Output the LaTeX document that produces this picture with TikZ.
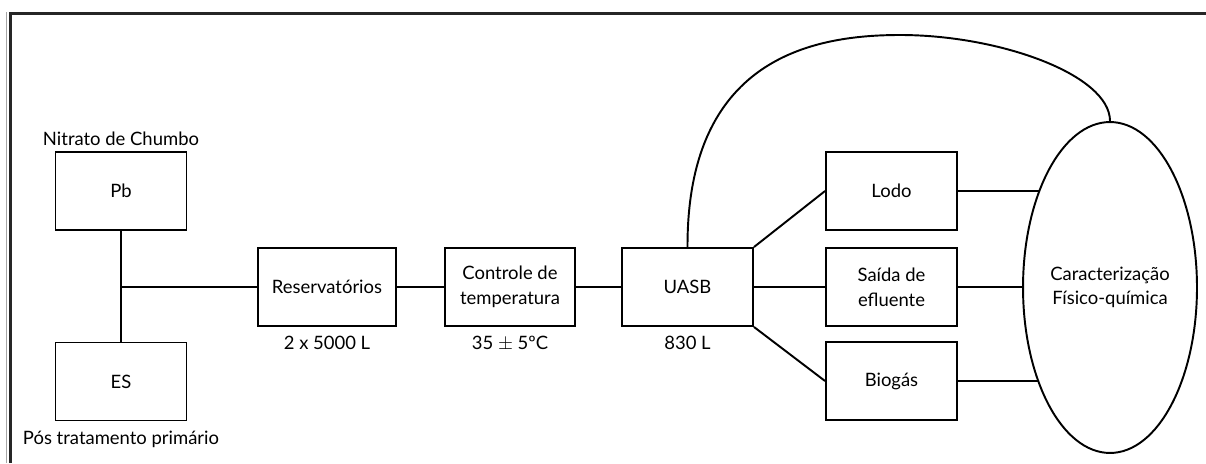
\documentclass[tikz,border=0pt]{standalone}
\usepackage{fontspec}
\setmainfont{Lato}
\usetikzlibrary{positioning,shapes.geometric,backgrounds}

\begin{document}
\begin{tikzpicture}[x=0.02cm,y=-0.02cm,
	font=\fontsize{10.5}{14}\selectfont,
	box/.style={draw,line width=1.1pt,minimum width=2.62cm,minimum height=1.56cm,align=center,inner sep=2pt},
	lnk/.style={line width=1.1pt},
	tag/.style={inner sep=1pt}]
	\useasboundingbox (0,0) rectangle (1206,463);
	% frame
	\draw[line width=0.8pt,black!35] (6.5,463) -- (6.5,12);
	\draw[line width=1.3pt,black!85] (10.5,463) -- (10.5,13.5) -- (1206,13.5);
	% sources
	\node[box] (pb) at (121,191) {Pb};
	\node[box] (es) at (121,381.5) {ES};
	\node[tag,above=2pt of pb] (pblbl) {Nitrato de Chumbo};
	\node[tag,below=4pt of es] (eslbl) {Pós tratamento primário};
	% main line
	\node[box,minimum width=2.76cm] (res) at (327,287) {Reservatórios};
	\node[box,minimum width=2.6cm] (temp) at (510,287) {Controle de\\temperatura};
	\node[box] (uasb) at (687.5,287) {UASB};
	\node[tag,below=4pt of res] (reslbl) {2 x 5000 L};
	\node[tag,below=4pt of temp] (templbl) {35 $\pm$ 5ºC};
	\node[tag,below=4pt of uasb] (uasblbl) {830 L};
	% outputs
	\node[box] (lodo) at (891.5,191) {Lodo};
	\node[box] (saida) at (891.5,287) {Saída de\\efluente};
	\node[box] (biogas) at (891.5,381) {Biogás};
	\node[draw,fill=white,line width=1.1pt,ellipse,minimum width=3.48cm,minimum height=6.62cm,inner sep=0pt,align=center] (carac) at (1110,287.5) {Caracterização\\Físico-química};
	\coordinate (jn) at (pb.south |- res.west);
	\draw[lnk] (pb.south) -- (es.north);
	\draw[lnk] (jn) -- (res.west);
	\draw[lnk] (res.east) -- (temp.west);
	\draw[lnk] (temp.east) -- (uasb.west);
	\draw[lnk] (uasb.north east) -- (lodo.west);
	\draw[lnk] (uasb.east) -- (saida.west);
	\draw[lnk] (uasb.south east) -- (biogas.west);
	\begin{scope}[on background layer]
		\draw[lnk] (lodo.east) -- (lodo.east -| carac.center);
		\draw[lnk] (saida.east) -- (saida.east -| carac.center);
		\draw[lnk] (biogas.east) -- (biogas.east -| carac.center);
	\end{scope}
	\draw[lnk] (uasb.north) .. controls (687,60) and (810,35) .. (900,35) .. controls (1000,35) and (1110,75) .. (carac.north);
\end{tikzpicture}
\end{document}
